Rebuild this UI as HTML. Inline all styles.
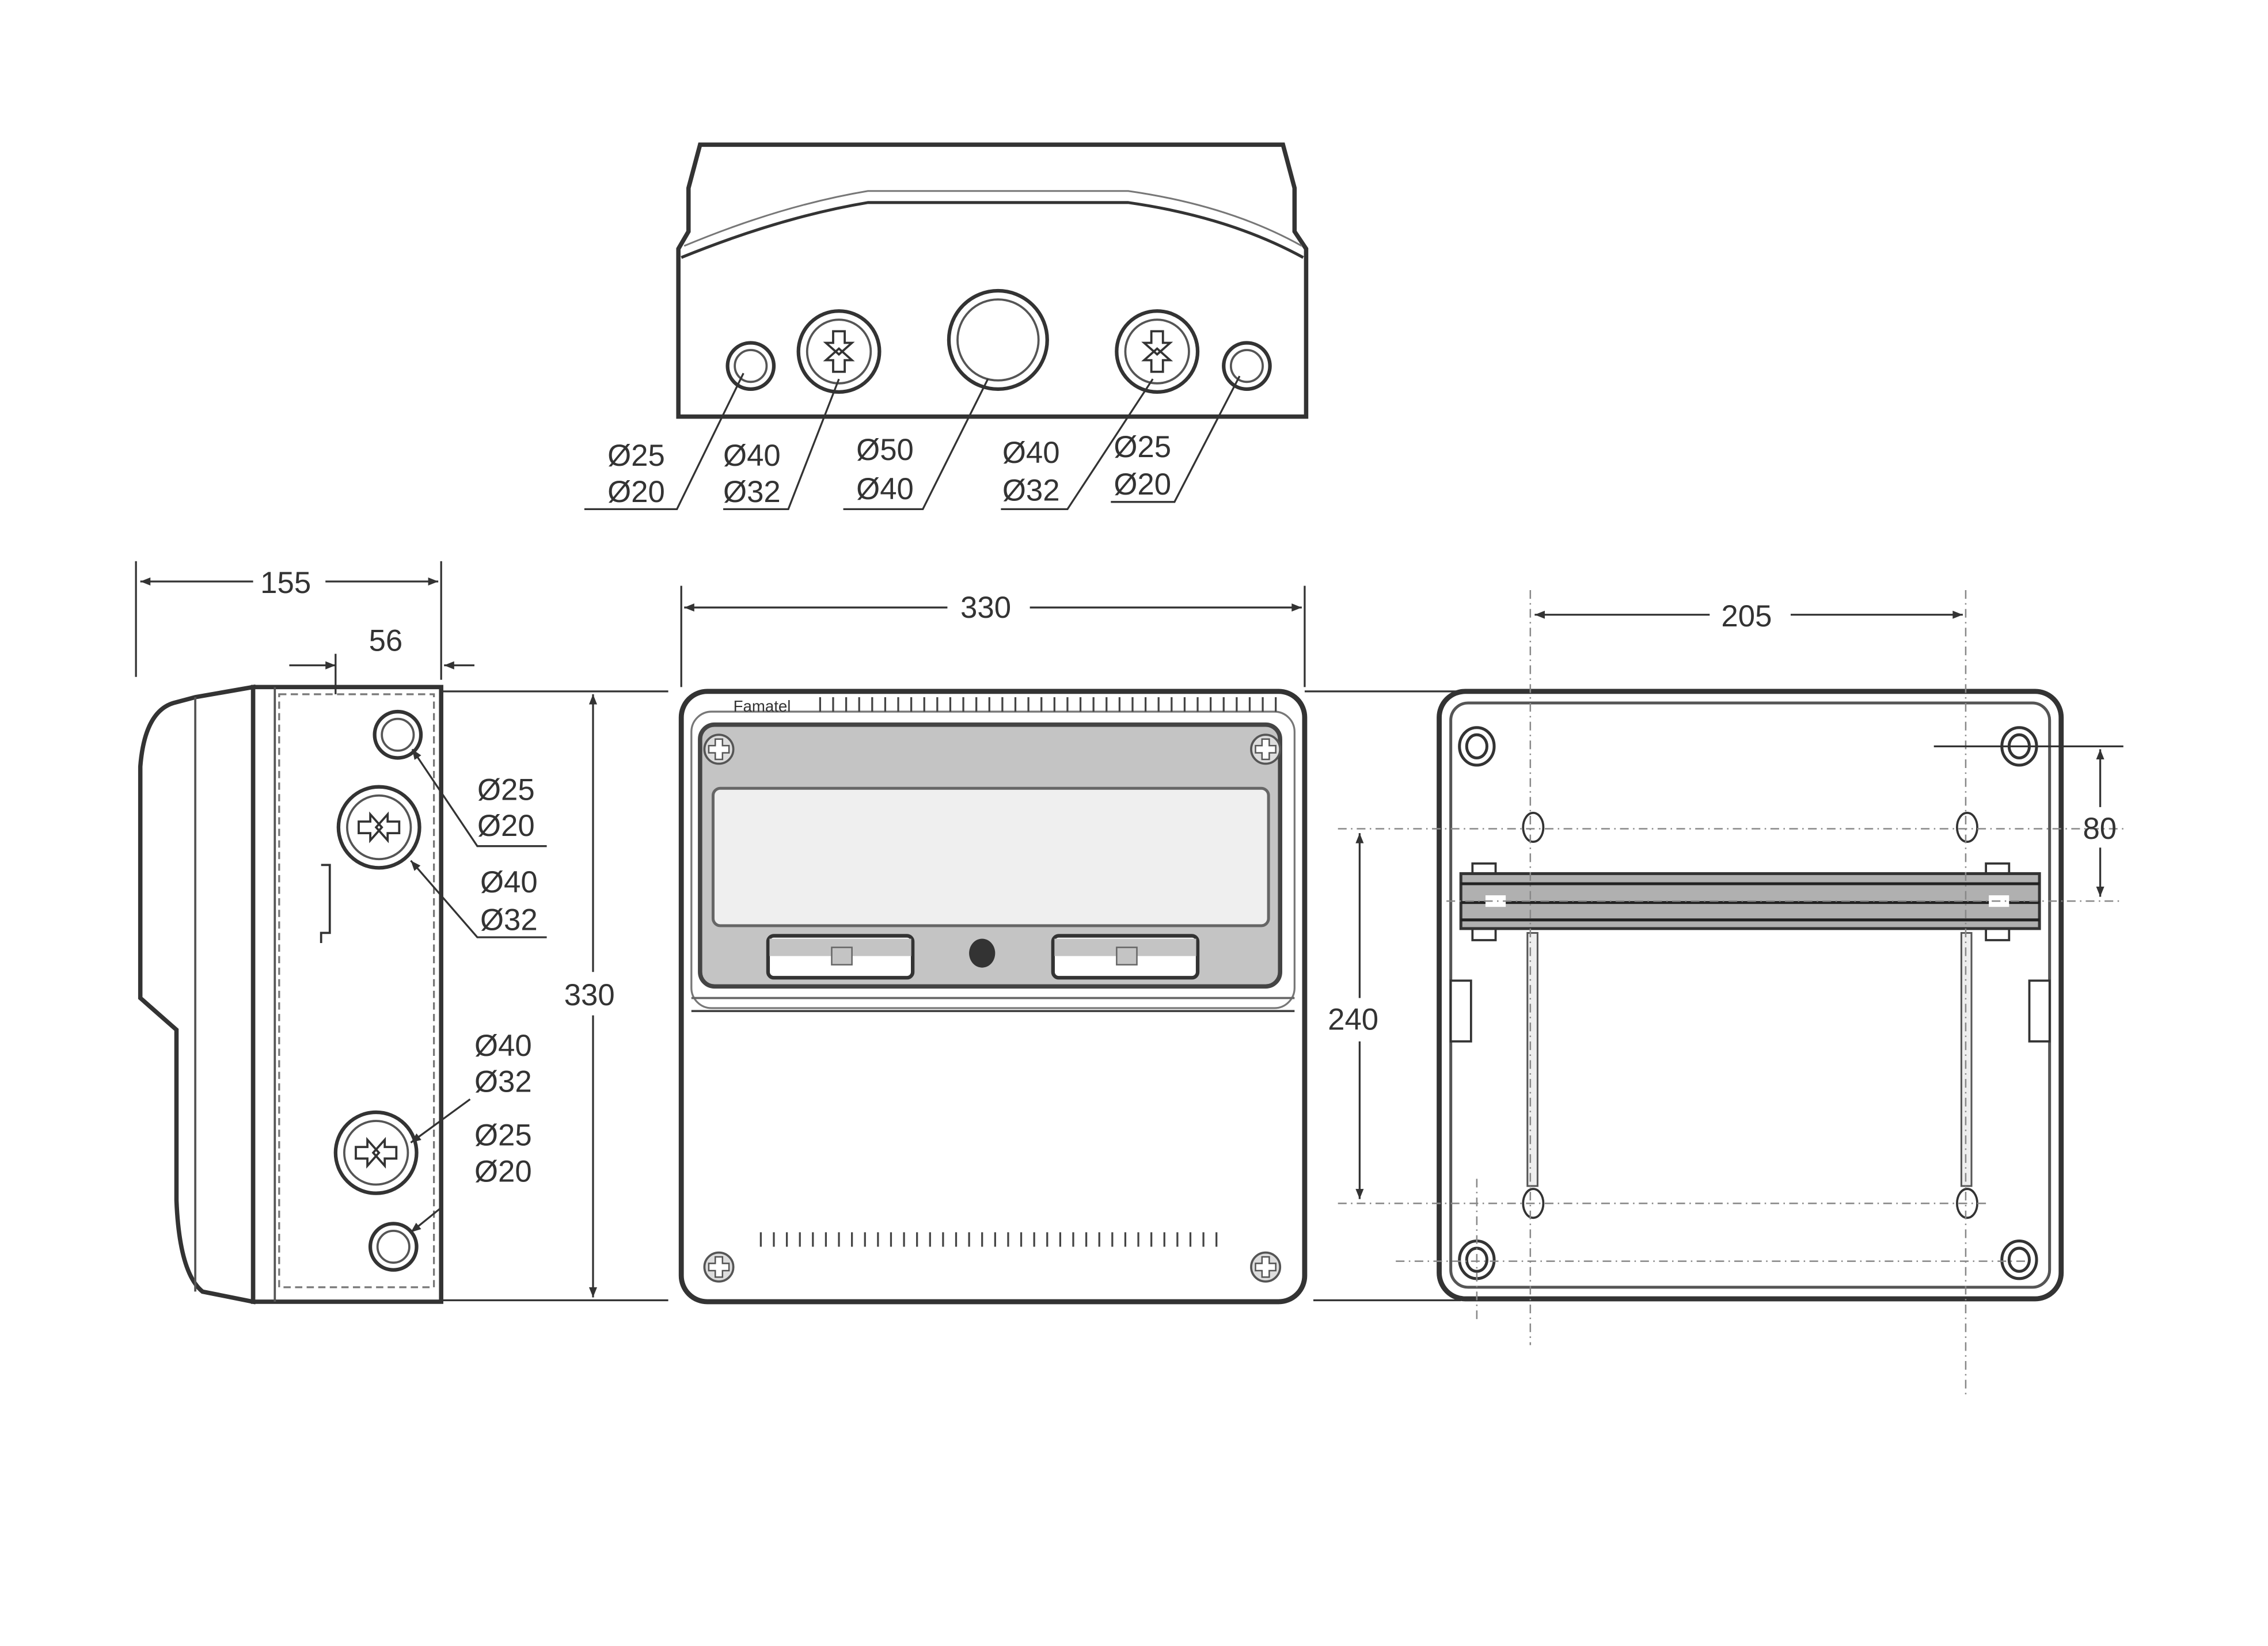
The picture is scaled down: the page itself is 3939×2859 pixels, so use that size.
<!DOCTYPE html>
<html><head><meta charset="utf-8"><style>
html,body{margin:0;padding:0;background:#fff;width:3939px;height:2859px;overflow:hidden}
svg{display:block}
text{font-family:"Liberation Sans",Arial,sans-serif;fill:#333}
</style></head><body>
<svg width="3939" height="2859" viewBox="0 0 1568 1138" xmlns="http://www.w3.org/2000/svg">
<defs>
<marker id="a" viewBox="0 0 10 10" refX="10" refY="5" markerWidth="9" markerHeight="7" orient="auto-start-reverse" markerUnits="userSpaceOnUse"><path d="M0,1 L10,5 L0,9 z" fill="#333"/></marker>
<g id="xh"><circle r="28" fill="#fff" stroke="#333" stroke-width="2.5"/><circle r="22" fill="none" stroke="#555" stroke-width="1.5"/><path d="M-4,-14 L4,-14 L4,-6 L9,-6 L0,2 L-9,-6 L-4,-6 Z M-4,14 L4,14 L4,6 L9,6 L0,-2 L-9,6 L-4,6 Z" fill="#fff" stroke="#333" stroke-width="1.5"/></g>
<g id="sh"><circle r="16" fill="#fff" stroke="#333" stroke-width="2.5"/><circle r="11" fill="none" stroke="#555" stroke-width="1.5"/></g>
<g id="sc"><circle r="10" fill="#ddd" stroke="#555" stroke-width="1.5"/><path d="M-2.5,-7 h5 v4.5 h4.5 v5 h-4.5 v4.5 h-5 v-4.5 h-4.5 v-5 h4.5 z" fill="#fff" stroke="#555"/></g>
</defs>
<g font-size="21">
<!-- TOP VIEW -->
<path d="M469,288 L469,172 L476,160 L476,130 L484,100 L887,100 L895,130 L895,160 L903,172 L903,288 Z" fill="#fff" stroke="#333" stroke-width="3"/>
<path d="M471,178 Q540,150 600,140 L780,140 Q850,150 901,178" fill="none" stroke="#333" stroke-width="2"/>
<path d="M473,170 Q540,142 600,132 L780,132 Q850,142 900,170" fill="none" stroke="#777" stroke-width="1.2"/>
<use href="#sh" x="519" y="253"/><use href="#xh" x="580" y="243"/>
<circle cx="690" cy="235" r="34" fill="#fff" stroke="#333" stroke-width="2.5"/><circle cx="690" cy="235" r="28" fill="none" stroke="#555" stroke-width="1.5"/>
<use href="#xh" x="800" y="243"/><use href="#sh" x="862" y="253"/>
<g stroke="#333" stroke-width="1.3" fill="none">
<path d="M404,352 L468,352 L514,258"/><path d="M500,352 L545,352 L580,262"/><path d="M583,352 L638,352 L683,262"/><path d="M692,352 L738,352 L797,262"/><path d="M768,347 L812,347 L857,260"/>
</g>
<text x="420" y="322">Ø25</text><text x="420" y="347">Ø20</text>
<text x="500" y="322">Ø40</text><text x="500" y="347">Ø32</text>
<text x="592" y="318">Ø50</text><text x="592" y="345">Ø40</text>
<text x="693" y="320">Ø40</text><text x="693" y="346">Ø32</text>
<text x="770" y="316">Ø25</text><text x="770" y="342">Ø20</text>

<!-- SIDE VIEW -->
<path d="M175,475 L135,482 L120,486 Q100,492 97,530 L97,690 L122,712 L122,830 Q124,880 140,893 L175,900 Z" fill="#fff" stroke="#333" stroke-width="3"/>
<path d="M135,482 L135,893" stroke="#555" stroke-width="1.5"/>
<rect x="175" y="475" width="130" height="425" fill="#fff" stroke="#333" stroke-width="3"/>
<line x1="190" y1="475" x2="190" y2="900" stroke="#555" stroke-width="1.5"/>
<rect x="193" y="480" width="107" height="410" fill="none" stroke="#777" stroke-width="1.3" stroke-dasharray="5,3"/>
<path d="M222,598 L228,598 L228,645 L222,645 L222,652" fill="none" stroke="#333" stroke-width="1.5"/>
<use href="#sh" x="275" y="508"/><use href="#xh" x="262" y="572" transform="rotate(90 262 572)"/>
<use href="#xh" x="260" y="797" transform="rotate(90 260 797)"/><use href="#sh" x="272" y="862"/>
<g stroke="#333" stroke-width="1.3" fill="none">
<path d="M378,585 L330,585 L285,518" marker-end="url(#a)"/>
<path d="M378,648 L330,648 L284,595" marker-end="url(#a)"/>
<path d="M325,760 L284,790" marker-end="url(#a)"/>
<path d="M305,835 L284,852" marker-end="url(#a)"/>
</g>
<text x="330" y="553">Ø25</text><text x="330" y="578">Ø20</text>
<text x="332" y="617">Ø40</text><text x="332" y="643">Ø32</text>
<text x="328" y="730">Ø40</text><text x="328" y="755">Ø32</text>
<text x="328" y="792">Ø25</text><text x="328" y="817">Ø20</text>
<g stroke="#333" stroke-width="1.3" fill="none">
<line x1="94" y1="388" x2="94" y2="468"/><line x1="305" y1="388" x2="305" y2="470"/>
<line x1="97" y1="402" x2="175" y2="402" marker-start="url(#a)"/><line x1="225" y1="402" x2="303" y2="402" marker-end="url(#a)"/>
<line x1="232" y1="452" x2="232" y2="480"/>
<line x1="200" y1="460" x2="232" y2="460" marker-end="url(#a)"/><line x1="328" y1="460" x2="307" y2="460" marker-end="url(#a)"/>
<line x1="305" y1="478" x2="462" y2="478"/><line x1="305" y1="899" x2="462" y2="899"/>
<line x1="410" y1="480" x2="410" y2="672" marker-start="url(#a)"/><line x1="410" y1="702" x2="410" y2="897" marker-end="url(#a)"/>
</g>
<text x="180" y="410">155</text><text x="255" y="450">56</text><text x="390" y="695">330</text>

<!-- FRONT VIEW -->
<rect x="471" y="478" width="431" height="422" rx="18" fill="#fff" stroke="#333" stroke-width="3.5"/>
<rect x="478" y="492" width="417" height="205" rx="14" fill="#fff" stroke="#777" stroke-width="1.3"/>
<text x="507" y="492" font-size="11">Famatel</text>
<g stroke="#444" stroke-width="1.3">
<path d="M567,482v10M576,482v10M585,482v10M594,482v10M603,482v10M612,482v10M621,482v10M630,482v10M639,482v10M648,482v10M657,482v10M666,482v10M675,482v10M684,482v10M693,482v10M702,482v10M711,482v10M720,482v10M729,482v10M738,482v10M747,482v10M756,482v10M765,482v10M774,482v10M783,482v10M792,482v10M801,482v10M810,482v10M819,482v10M828,482v10M837,482v10M846,482v10M855,482v10M864,482v10M873,482v10M882,482v10"/>
<path d="M526,852v10M535,852v10M544,852v10M553,852v10M562,852v10M571,852v10M580,852v10M589,852v10M598,852v10M607,852v10M616,852v10M625,852v10M634,852v10M643,852v10M652,852v10M661,852v10M670,852v10M679,852v10M688,852v10M697,852v10M706,852v10M715,852v10M724,852v10M733,852v10M742,852v10M751,852v10M760,852v10M769,852v10M778,852v10M787,852v10M796,852v10M805,852v10M814,852v10M823,852v10M832,852v10M841,852v10"/>
</g>
<rect x="484" y="501" width="401" height="181" rx="10" fill="#c4c4c4" stroke="#444" stroke-width="3"/>
<rect x="493" y="545" width="384" height="95" rx="5" fill="#efefef" stroke="#666" stroke-width="2"/>
<rect x="531" y="647" width="100" height="29" rx="4" fill="#fff" stroke="#333" stroke-width="2.5"/>
<rect x="532" y="649" width="98" height="12" fill="#c4c4c4"/>
<rect x="575" y="655" width="14" height="12" fill="#c4c4c4" stroke="#666"/>
<rect x="728" y="647" width="100" height="29" rx="4" fill="#fff" stroke="#333" stroke-width="2.5"/>
<rect x="729" y="649" width="98" height="12" fill="#c4c4c4"/>
<rect x="772" y="655" width="14" height="12" fill="#c4c4c4" stroke="#666"/>
<ellipse cx="679" cy="659" rx="9" ry="10" fill="#333"/>
<line x1="478" y1="690" x2="895" y2="690" stroke="#666" stroke-width="1.5"/>
<line x1="478" y1="699" x2="895" y2="699" stroke="#444" stroke-width="1.5"/>
<use href="#sc" x="497" y="518"/><use href="#sc" x="875" y="518"/>
<use href="#sc" x="497" y="876"/><use href="#sc" x="875" y="876"/>
<g stroke="#333" stroke-width="1.3" fill="none">
<line x1="471" y1="405" x2="471" y2="475"/><line x1="902" y1="405" x2="902" y2="475"/>
<line x1="473" y1="420" x2="655" y2="420" marker-start="url(#a)"/><line x1="712" y1="420" x2="900" y2="420" marker-end="url(#a)"/>
<line x1="902" y1="478" x2="1010" y2="478"/><line x1="908" y1="899" x2="1010" y2="899"/>
</g>
<text x="664" y="427">330</text>

<!-- BACK VIEW -->
<rect x="995" y="478" width="430" height="420" rx="18" fill="#fff" stroke="#333" stroke-width="3.5"/>
<rect x="1003" y="486" width="414" height="404" rx="12" fill="none" stroke="#555" stroke-width="2"/>
<g fill="#fff" stroke="#333" stroke-width="2">
<ellipse cx="1021" cy="516" rx="12" ry="13"/><ellipse cx="1021" cy="516" rx="7" ry="8"/>
<ellipse cx="1396" cy="516" rx="12" ry="13"/><ellipse cx="1396" cy="516" rx="7" ry="8"/>
<ellipse cx="1021" cy="871" rx="12" ry="13"/><ellipse cx="1021" cy="871" rx="7" ry="8"/>
<ellipse cx="1396" cy="871" rx="12" ry="13"/><ellipse cx="1396" cy="871" rx="7" ry="8"/>
<ellipse cx="1060" cy="572" rx="7" ry="10" stroke-width="1.5"/><ellipse cx="1360" cy="572" rx="7" ry="10" stroke-width="1.5"/>
<ellipse cx="1060" cy="832" rx="7" ry="10" stroke-width="1.5"/><ellipse cx="1360" cy="832" rx="7" ry="10" stroke-width="1.5"/>
<rect x="1018" y="597" width="16" height="10" stroke-width="1.5"/><rect x="1373" y="597" width="16" height="10" stroke-width="1.5"/>
<rect x="1018" y="640" width="16" height="10" stroke-width="1.5"/><rect x="1373" y="640" width="16" height="10" stroke-width="1.5"/>
<rect x="1003" y="678" width="14" height="42" stroke-width="1.5"/><rect x="1403" y="678" width="14" height="42" stroke-width="1.5"/>
</g>
<rect x="1056" y="645" width="7" height="175" fill="#eee" stroke="#555" stroke-width="1.2"/>
<rect x="1356" y="645" width="7" height="175" fill="#eee" stroke="#555" stroke-width="1.2"/>
<rect x="1010" y="604" width="400" height="38" fill="#b0b0b0" stroke="#333" stroke-width="2"/>
<line x1="1010" y1="611" x2="1410" y2="611" stroke="#222" stroke-width="2"/>
<line x1="1010" y1="624" x2="1410" y2="624" stroke="#222" stroke-width="2"/>
<line x1="1010" y1="636" x2="1410" y2="636" stroke="#222" stroke-width="2"/>
<rect x="1027" y="619" width="14" height="8" fill="#fff"/><rect x="1375" y="619" width="14" height="8" fill="#fff"/>
<g stroke="#888" stroke-width="1" fill="none" stroke-dasharray="6,3,1,3">
<line x1="1058" y1="408" x2="1058" y2="930"/><line x1="1359" y1="408" x2="1359" y2="965"/>
<line x1="925" y1="573" x2="1468" y2="573"/><line x1="1000" y1="623" x2="1468" y2="623"/>
<line x1="925" y1="832" x2="1375" y2="832"/><line x1="965" y1="872" x2="1400" y2="872"/>
<line x1="1021" y1="815" x2="1021" y2="915"/>
</g>
<g stroke="#333" stroke-width="1.3" fill="none">
<line x1="1061" y1="425" x2="1182" y2="425" marker-start="url(#a)"/><line x1="1238" y1="425" x2="1357" y2="425" marker-end="url(#a)"/>
<line x1="1337" y1="516" x2="1468" y2="516"/>
<line x1="1452" y1="518" x2="1452" y2="558" marker-start="url(#a)"/><line x1="1452" y1="586" x2="1452" y2="620" marker-end="url(#a)"/>
<line x1="940" y1="576" x2="940" y2="690" marker-start="url(#a)"/><line x1="940" y1="720" x2="940" y2="829" marker-end="url(#a)"/>
</g>
<text x="1190" y="433">205</text><text x="1440" y="580">80</text><text x="918" y="712">240</text>
</g>
</svg>
</body></html>
